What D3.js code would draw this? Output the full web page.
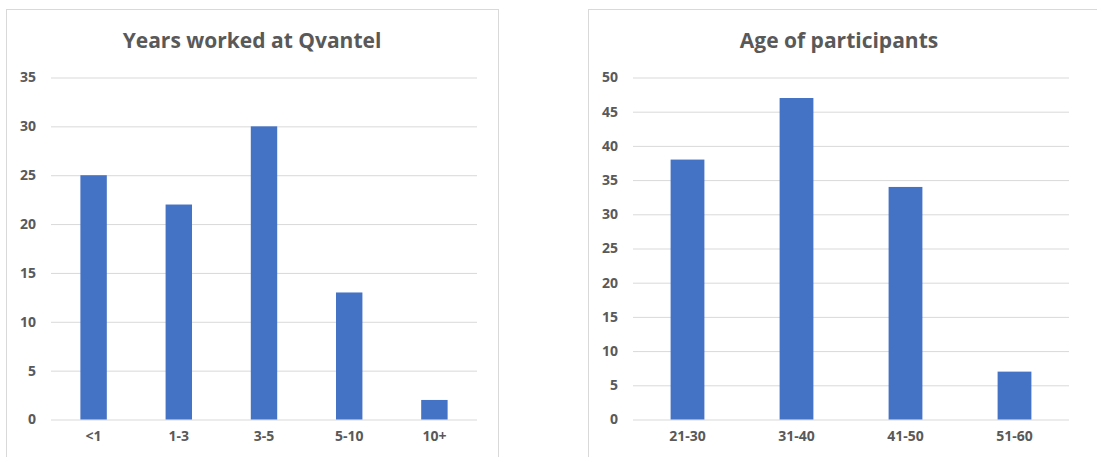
<!DOCTYPE html>
<html>
<head>
<meta charset="utf-8">
<script src="https://cdn.jsdelivr.net/npm/d3@7"></script>
<style>
  body { margin: 0; background: #fff; }
  svg { display: block; }
  text { font-family: "Open Sans", "Liberation Sans", sans-serif; font-weight: bold; fill: #595959; }
</style>
</head>
<body>
<svg id="chart" width="1097" height="457"></svg>
<script>
// Chart 1: Years worked at Qvantel
const yearsCategories = ["<1", "1-3", "3-5", "5-10", "10+"];
const yearsValues = [25, 22, 30, 13, 2];
const yearsTicks = [0, 5, 10, 15, 20, 25, 30, 35];

// Chart 2: Age of participants
const ageCategories = ["21-30", "31-40", "41-50", "51-60"];
const ageValues = [38, 47, 34, 7];
const ageTicks = [0, 5, 10, 15, 20, 25, 30, 35, 40, 45, 50];

const svg = d3.select("#chart");

function drawChart(cfg) {
  const g = svg.append("g");
  // frame
  g.append("rect")
    .attr("x", cfg.frame[0] + 0.5).attr("y", cfg.frame[1] + 0.5)
    .attr("width", cfg.frame[2]).attr("height", cfg.frame[3])
    .attr("fill", "#fff").attr("stroke", "#d9d9d9").attr("stroke-width", 1);

  const x = d3.scaleBand().domain(cfg.categories).range([cfg.plot.x0, cfg.plot.x1])
    .paddingInner(0.69).paddingOuter(0.345);
  const y = d3.scaleLinear().domain([0, cfg.max]).range([cfg.plot.y0, cfg.plot.y1]);

  // gridlines
  const yAxis = d3.axisLeft(y).tickValues(cfg.ticks).tickSize(-(cfg.plot.x1 - cfg.plot.x0)).tickPadding(15);
  const ga = g.append("g").attr("transform", `translate(${cfg.plot.x0},0)`).call(yAxis);
  ga.select(".domain").remove();
  ga.selectAll(".tick line").attr("stroke", "#d9d9d9").attr("stroke-width", 1);
  ga.selectAll(".tick text").style("font-size", "14px").style("font-family", "'Open Sans', sans-serif")
    .style("font-weight", "bold").attr("fill", "#595959");

  // bars
  g.append("g").selectAll("rect").data(cfg.values).join("rect")
    .attr("x", (d, i) => x(cfg.categories[i]))
    .attr("width", x.bandwidth())
    .attr("y", d => y(d))
    .attr("height", d => y(0) - y(d))
    .attr("fill", "#4472c4");

  // x axis labels
  const xAxis = d3.axisBottom(x).tickSize(0).tickPadding(12);
  const gx = g.append("g").attr("transform", `translate(0,${cfg.plot.y0})`).call(xAxis);
  gx.select(".domain").remove();
  gx.selectAll(".tick text").style("font-size", "14px").style("font-family", "'Open Sans', sans-serif")
    .style("font-weight", "bold").attr("fill", "#595959");

  // title
  g.append("text").attr("x", cfg.titleX).attr("y", 48).attr("text-anchor", "middle")
    .style("font-size", "21px").text(cfg.title);
}

drawChart({
  frame: [6, 9, 492, 460],
  plot: { x0: 51, x1: 477, y0: 419.5, y1: 77.5 },
  categories: yearsCategories, values: yearsValues, ticks: yearsTicks, max: 35,
  title: "Years worked at Qvantel", titleX: 252
});

drawChart({
  frame: [588, 9, 520, 460],
  plot: { x0: 633, x1: 1069, y0: 419.5, y1: 77.5 },
  categories: ageCategories, values: ageValues, ticks: ageTicks, max: 50,
  title: "Age of participants", titleX: 839
});
</script>
</body>
</html>
